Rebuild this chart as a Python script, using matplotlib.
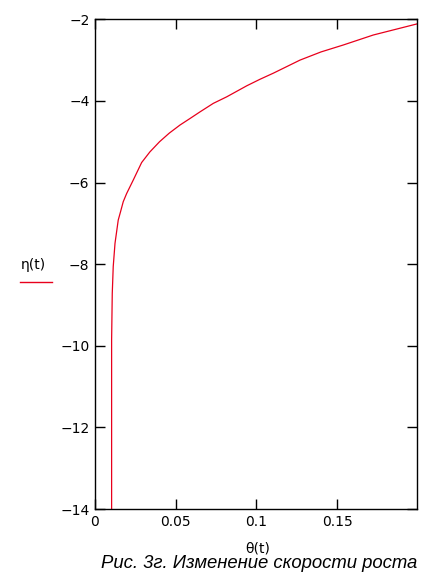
import matplotlib
matplotlib.use("Agg")
import matplotlib.pyplot as plt

# data
theta = [0.0103, 0.0103, 0.0103, 0.0107, 0.0113, 0.0124, 0.0144, 0.0158, 0.0175,
         0.0196, 0.0237, 0.0289, 0.0340, 0.0400, 0.0460, 0.0527, 0.0589, 0.0650, 0.0733,
         0.0816, 0.0940, 0.1022, 0.1105, 0.1270, 0.1400, 0.1538, 0.1724, 0.1993]
eta = [-15.0, -12.0, -9.86, -8.72, -8.06, -7.49, -6.92, -6.72, -6.47,
       -6.27, -5.94, -5.51, -5.25, -5.00, -4.79, -4.59, -4.43, -4.27, -4.06,
       -3.90, -3.63, -3.47, -3.32, -3.00, -2.80, -2.63, -2.385, -2.115]
xticks = [0, 0.05, 0.1, 0.15]
xticklabels = ["0", "0.05", "0.1", "0.15"]
yticks = [-14, -12, -10, -8, -6, -4, -2]
yticklabels = ["\u221214", "\u221212", "\u221210", "\u22128", "\u22126", "\u22124", "\u22122"]

fig = plt.figure(figsize=(4.47, 5.76), dpi=100)
ax = fig.add_axes([0.2125, 0.1163, 0.7204, 0.8502])
ax.plot(theta, eta, color="#e8001c", lw=0.9)
ax.set_xlim(0, 0.1995)
ax.set_ylim(-14, -2)
ax.set_xticks(xticks)
ax.set_xticklabels(xticklabels)
ax.set_yticks(yticks)
ax.set_yticklabels(yticklabels)
ax.tick_params(direction="in", length=7, width=1, top=True, right=True,
               labelsize=10, colors="black", pad=4)
for s in ax.spines.values():
    s.set_linewidth(1.0)

fig.text(33/447, 1-265/576, "\u03b7(t)", ha="center", va="center", fontsize=10)
fig.add_artist(plt.Line2D([20/447, 52/447], [1-282/576, 1-282/576], color="#e8001c", lw=1.0))
fig.text(258/447, 1-548/576, "\u03b8(t)", ha="center", va="center", fontsize=10)
fig.text(259/447, 1-563/576, "Рис. 3г. Изменение скорости роста", ha="center", va="center",
         fontsize=13.3, style="italic", family="Liberation Sans")

fig.savefig("out.png", dpi=100)
